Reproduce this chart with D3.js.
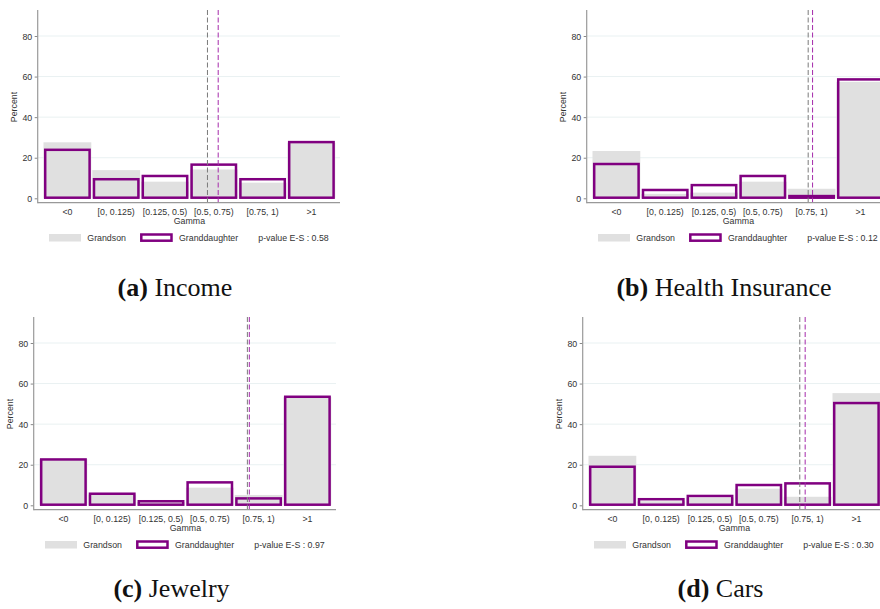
<!DOCTYPE html>
<html>
<head>
<meta charset="utf-8">
<script src="https://cdn.jsdelivr.net/npm/d3@7"></script>
<style>
  body { margin: 0; background: #fff; }
  svg { display: block; }
  .tick text, .lbl { font-family: "Liberation Sans", Arial, sans-serif; font-size: 8.8px; fill: #333; }
  .cap { font-family: "Liberation Serif", "Times New Roman", serif; font-size: 26px; fill: #111; }
</style>
</head>
<body>
<svg width="880" height="609"></svg>
<script>
var svg = d3.select("svg");

// categories of gamma
var categories = ["<0", "[0, 0.125)", "[0.125, 0.5)", "[0.5, 0.75)", "[0.75, 1)", ">1"];
var yTicks = [0, 20, 40, 60, 80];

// percent by category, one row per panel
var grandsonIncome = [27.6, 13.9, 8.2, 14.2, 7.7, 27.4];
var granddaughterIncome = [23.9, 9.4, 11.0, 16.6, 9.4, 27.7];
var grandsonHealth = [23.3, 2.2, 2.8, 8.2, 4.7, 57.4];
var granddaughterHealth = [16.9, 4.1, 6.5, 11.0, 1.1, 58.6];
var grandsonJewelry = [22.8, 5.3, 1.5, 8.7, 5.1, 53.3];
var granddaughterJewelry = [22.6, 5.7, 2.0, 11.3, 3.4, 53.5];
var grandsonCars = [24.4, 2.0, 3.8, 8.2, 4.2, 55.3];
var granddaughterCars = [19.0, 3.0, 4.6, 10.0, 10.8, 50.4];

// dashed mean lines, in category units along the axis
var meanGrandson = [3.37, 4.43, 4.27, 4.34];
var meanGranddaughter = [3.59, 4.52, 4.31, 4.45];

var pValues = ["0.58", "0.12", "0.97", "0.30"];
var captionLetters = ["(a)", "(b)", "(c)", "(d)"];
var captionNames = ["Income", "Health Insurance", "Jewelry", "Cars"];

var panels = [
  {dx: 0,   dy: 0,   gs: grandsonIncome,  gd: granddaughterIncome,  cx: 175,   cy: 296},
  {dx: 549, dy: 0,   gs: grandsonHealth,  gd: granddaughterHealth,  cx: 724,   cy: 296},
  {dx: -4,  dy: 307, gs: grandsonJewelry, gd: granddaughterJewelry, cx: 171.5, cy: 597},
  {dx: 545, dy: 307, gs: grandsonCars,    gd: granddaughterCars,    cx: 720.5, cy: 597}
];

var purple = "#800080";
var grey = "#e0e0e0";

// panel geometry (same for all)
var x = d3.scaleLinear().domain([0, categories.length]).range([43, 335.8]);
var y = d3.scaleLinear().domain([0, 80]).range([198.3, 36]);
var axisX = 37.7, axisY = 202.7, topY = 10, rightX = 340;
var bw = x(1) - x(0);

panels.forEach(function(p, k) {
  var g = svg.append("g").attr("transform", "translate(" + p.dx + "," + p.dy + ")");

  // grid
  g.selectAll("line.grid").data(yTicks.slice(1)).enter().append("line")
    .attr("x1", axisX).attr("x2", rightX)
    .attr("y1", function(d) { return y(d); }).attr("y2", function(d) { return y(d); })
    .attr("stroke", "#e9f1f2").attr("stroke-width", 1);

  // grandson bars
  g.selectAll("rect.gs").data(p.gs).enter().append("rect")
    .attr("x", function(d, i) { return x(i) + 0.5; })
    .attr("width", bw - 1)
    .attr("y", function(d) { return y(d); })
    .attr("height", function(d) { return y(0) - y(d); })
    .attr("fill", grey);

  // granddaughter bars (outline)
  g.selectAll("rect.gd").data(p.gd).enter().append("rect")
    .attr("x", function(d, i) { return x(i) + 2.2; })
    .attr("width", bw - 4.4)
    .attr("y", function(d) { return y(d); })
    .attr("height", function(d) { return y(0) - y(d) - 0.6; })
    .attr("fill", "none")
    .attr("stroke", purple).attr("stroke-width", 2.5);

  // mean lines
  g.append("line")
    .attr("x1", x(meanGrandson[k])).attr("x2", x(meanGrandson[k]))
    .attr("y1", topY).attr("y2", axisY)
    .attr("stroke", "#7a7a7a").attr("stroke-width", 1).attr("stroke-dasharray", "5,2.5");
  g.append("line")
    .attr("x1", x(meanGranddaughter[k])).attr("x2", x(meanGranddaughter[k]))
    .attr("y1", topY).attr("y2", axisY)
    .attr("stroke", "#a52aaa").attr("stroke-width", 1).attr("stroke-dasharray", "5,2.5");

  // y axis
  var ya = g.append("g").attr("transform", "translate(" + axisX + ",0)")
    .call(d3.axisLeft(y).tickValues(yTicks).tickSize(3).tickPadding(2.5));
  ya.select(".domain").remove();
  ya.selectAll(".tick line").attr("stroke", "#888");
  ya.selectAll(".tick text").attr("dy", "0.34em");
  g.append("line").attr("x1", axisX).attr("x2", axisX).attr("y1", topY).attr("y2", axisY + 0.5)
    .attr("stroke", "#999").attr("stroke-width", 1.2);

  // x axis
  g.append("line").attr("x1", axisX).attr("x2", rightX).attr("y1", axisY).attr("y2", axisY)
    .attr("stroke", "#999").attr("stroke-width", 1.2);
  g.selectAll("text.xl").data(categories).enter().append("text")
    .attr("class", "lbl")
    .attr("x", function(d, i) { return x(i + 0.5); })
    .attr("y", 214.5)
    .attr("text-anchor", "middle")
    .text(function(d) { return d; });
  g.append("text").attr("class", "lbl").attr("x", x(3)).attr("y", 223.5)
    .attr("text-anchor", "middle").text("Gamma");
  g.append("text").attr("class", "lbl")
    .attr("transform", "translate(17,107) rotate(-90)")
    .attr("text-anchor", "middle").text("Percent");

  // legend
  g.append("rect").attr("x", 49).attr("y", 234).attr("width", 32).attr("height", 7.5).attr("fill", grey);
  g.append("text").attr("class", "lbl").attr("x", 87.3).attr("y", 241).text("Grandson");
  g.append("rect").attr("x", 141.3).attr("y", 234.5).attr("width", 30.2).attr("height", 6.2)
    .attr("fill", "none").attr("stroke", purple).attr("stroke-width", 2.5);
  g.append("text").attr("class", "lbl").attr("x", 179).attr("y", 241).text("Granddaughter");
  g.append("text").attr("class", "lbl").attr("x", 258.3).attr("y", 241).text("p-value E-S : " + pValues[k]);

  // caption
  var cap = svg.append("text").attr("class", "cap")
    .attr("x", p.cx).attr("y", p.cy).attr("text-anchor", "middle");
  cap.append("tspan").attr("font-weight", "bold").text(captionLetters[k]);
  cap.append("tspan").text(" " + captionNames[k]);
});
</script>
</body>
</html>
